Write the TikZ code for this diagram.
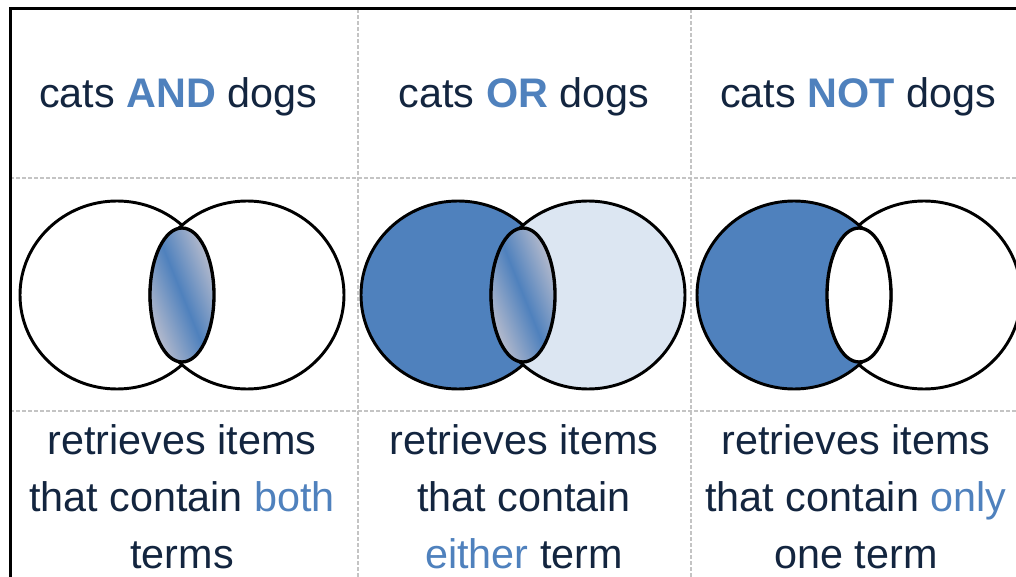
\documentclass[tikz,border=0pt]{standalone}
\usepackage{fontspec}
\setmainfont{Liberation Sans}
\definecolor{ink}{HTML}{13253F}
\definecolor{opblue}{HTML}{4F81BD}
\definecolor{paleblue}{HTML}{DCE6F2}
\definecolor{lenspink}{HTML}{EDDAD5}
\definecolor{gridgray}{HTML}{C4C4C4}
\pgfdeclarehorizontalshading{lensfade}{100bp}{color(0bp)=(lenspink); color(14bp)=(lenspink); color(50bp)=(opblue); color(86bp)=(lenspink); color(100bp)=(lenspink)}
\newcommand{\kw}[1]{\textcolor{opblue}{#1}}
\tikzstyle{borderline} = [line width=2.25pt, black]
\tikzstyle{gridline} = [line width=0.9pt, gridgray, dash pattern=on 3pt off 1.5pt]
\tikzstyle{venn} = [line width=2.2pt, black]
\tikzstyle{lensdraw} = [line width=2.5pt, black]
\tikzstyle{headtext} = [text=ink, font=\fontsize{31}{37}\selectfont, anchor=base, inner sep=0pt]
\tikzstyle{desctext} = [text=ink, font=\fontsize{31}{42.4}\selectfont, anchor=base, align=center, inner sep=0pt]

\begin{document}
\begin{tikzpicture}[x=0.75pt,y=0.75pt]
    \useasboundingbox (0,0) rectangle (1016,-577);
    \draw[gridline] (10,-178) -- (1016,-178);
    \draw[gridline] (10,-411) -- (1016,-411);
    \draw[gridline] (358,-9) -- (358,-577);
    \draw[gridline] (691,-9) -- (691,-577);
    \draw[borderline] (1016,-9) -- (10,-9) -- (10,-577);

    \node[headtext] (andhead) at (178,-108) {cats \textbf{\kw{AND}} dogs};
    \node[headtext] (orhead) at (524,-108) {cats \textbf{\kw{OR}} dogs};
    \node[headtext] (nothead) at (858,-108) {cats \textbf{\kw{NOT}} dogs};

    \draw[venn, fill=white] (117,-295) ellipse [x radius=97, y radius=94];
    \draw[venn, fill=white] (247,-295) ellipse [x radius=97, y radius=94];
    \shadedraw[lensdraw, shading=lensfade, shading angle=22] (182,-295) ellipse [x radius=32, y radius=67];

    \draw[venn, fill=opblue] (458,-295) ellipse [x radius=97, y radius=94];
    \draw[venn, fill=paleblue] (588,-295) ellipse [x radius=97, y radius=94];
    \shadedraw[lensdraw, shading=lensfade, shading angle=22] (523,-295) ellipse [x radius=32, y radius=67];

    \draw[venn, fill=white] (924,-295) ellipse [x radius=97, y radius=94];
    \draw[venn, fill=opblue] (794,-295) ellipse [x radius=97, y radius=94];
    \draw[lensdraw, fill=white] (859,-295) ellipse [x radius=32, y radius=67];

    \node[desctext] (anddesc) at (182,-568) {retrieves items\\that contain \kw{both}\\terms};
    \node[desctext] (ordesc) at (524,-568) {retrieves items\\that contain\\\kw{either} term};
    \node[desctext] (notdesc) at (856,-568) {retrieves items\\that contain \kw{only}\\one term};
\end{tikzpicture}
\end{document}
